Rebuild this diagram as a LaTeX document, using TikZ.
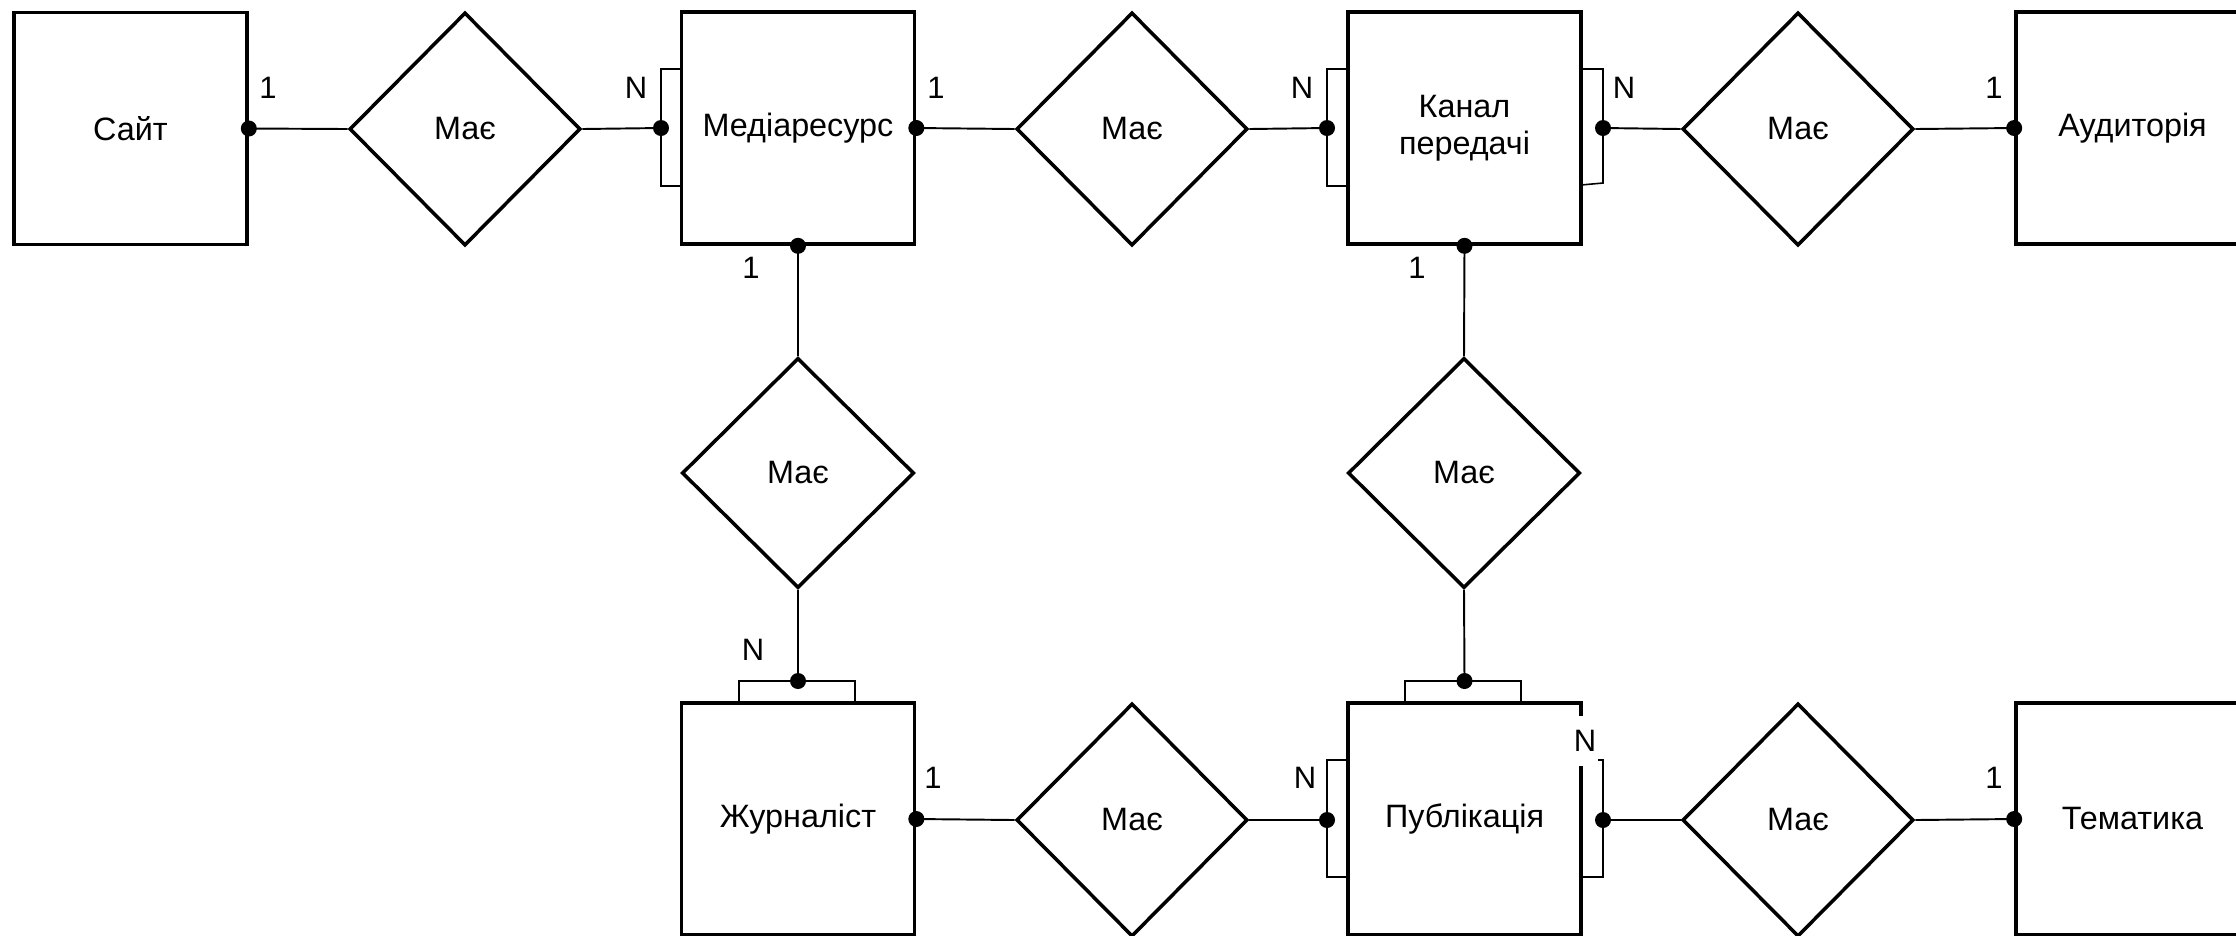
\documentclass[tikz,border=0pt]{standalone}
\usepackage{fontspec}
\setmainfont{Liberation Sans}
\usetikzlibrary{shapes.geometric}
\tikzset{
  entity/.style={draw, line width=1pt, rectangle, inner sep=0pt, minimum width=2.33cm, minimum height=2.32cm, align=center, font=\fontsize{9.2}{10.6}\selectfont},
  rel/.style={draw, line width=1pt, diamond, inner sep=0pt, minimum width=2.31cm, minimum height=2.33cm, font=\fontsize{9.2}{10.6}\selectfont},
  conn/.style={line width=0.55pt},
  brk/.style={line width=0.45pt},
  card/.style={font=\fontsize{8.8}{10}\selectfont, inner sep=0.5pt},
  jdot/.style={fill=black},
}
\begin{document}
\begin{tikzpicture}[x=0.01cm, y=-0.01cm]
\useasboundingbox (0,0) rectangle (2236,935);
\clip (0,0) rectangle (2236,935);
% entities
\node[entity] (site)  at (130.5,128.5) {Сайт};
\node[entity] (media) at (798,128) {Медіаресурс};
\node[entity] (kanal) at (1464.5,128) {Канал\\передачі};
\node[entity] (aud)   at (2132.5,128) {Аудиторія};
\node[entity] (jour)  at (798,819) {Журналіст};
\node[entity] (pub)   at (1464.5,819) {Публікація};
\node[entity] (tem)   at (2132.5,819) {Тематика};
% relationships
\node[rel] (d1) at (465,129) {Має};
\node[rel] (d2) at (1132,129) {Має};
\node[rel] (d3) at (1798,129) {Має};
\node[rel, minimum width=2.32cm, minimum height=2.30cm] (dv1) at (798,473) {Має};
\node[rel, minimum width=2.32cm, minimum height=2.30cm] (dv2) at (1464,473) {Має};
\node[rel] (d4) at (1132,820) {Має};
\node[rel] (d5) at (1798,820) {Має};
% connection points
\coordinate (c1) at (site.east);
\coordinate (c2) at (661,128);
\coordinate (c3) at (media.east);
\coordinate (c4) at (1327,128);
\coordinate (c5) at (1603,128);
\coordinate (c6) at (aud.west);
\coordinate (c7) at (media.south);
\coordinate (c8) at (798,681);
\coordinate (c9) at (kanal.south);
\coordinate (c10) at (1464.5,681);
\coordinate (c11) at (jour.east);
\coordinate (c12) at (1327,820);
\coordinate (c13) at (1603,820);
\coordinate (c14) at (tem.west);
% brackets
\draw[brk] (682,69) -- (661,69) -- (661,186) -- (682,186);
\draw[brk] (1348,69) -- (1327,69) -- (1327,186) -- (1348,186);
\draw[brk] (1581,69) -- (1603,69) -- (1603,183) -- (1581,185);
\draw[brk] (739,703) -- (739,681) -- (855,681) -- (855,703);
\draw[brk] (1405,703) -- (1405,681) -- (1521,681) -- (1521,703);
\draw[brk] (1348,760) -- (1327,760) -- (1327,877) -- (1348,877);
\draw[brk] (1581,760) -- (1603,760) -- (1603,877) -- (1581,877);
% connectors
\draw[conn] (c1) -- (d1.west);
\draw[conn] (d1.east) -- (c2);
\draw[conn] (c3) -- (d2.west);
\draw[conn] (d2.east) -- (c4);
\draw[conn] (c5) -- (d3.west);
\draw[conn] (d3.east) -- (c6);
\draw[conn] (c7) -- (dv1.north);
\draw[conn] (dv1.south) -- (c8);
\draw[conn] (c9) -- (dv2.north);
\draw[conn] (dv2.south) -- (c10);
\draw[conn] (c11) -- (d4.west);
\draw[conn] (d4.east) -- (c12);
\draw[conn] (c13) -- (d5.west);
\draw[conn] (d5.east) -- (c14);
% dots
\foreach \c in {c1,c2,c3,c4,c5,c6,c7,c8,c9,c10,c11,c12,c13,c14}
  \fill[jdot] (\c) circle[radius=0.08cm];
% cardinalities
\node[card] (l1)  at (268,88) {1};
\node[card] (l2)  at (636,88) {N};
\node[card] (l3)  at (936,88) {1};
\node[card] (l4)  at (1302,88) {N};
\node[card] (l5)  at (1624,88) {N};
\node[card] (l6)  at (1994,88) {1};
\node[card] (l7)  at (751,268) {1};
\node[card] (l8)  at (1417,268) {1};
\node[card] (l9)  at (753,650) {N};
\node[card] (l10) at (933,778) {1};
\node[card] (l11) at (1305,778) {N};
\node[card, fill=white, inner ysep=4pt] (l12) at (1585,741) {N};
\node[card] (l13) at (1994,778) {1};
\end{tikzpicture}
\end{document}
